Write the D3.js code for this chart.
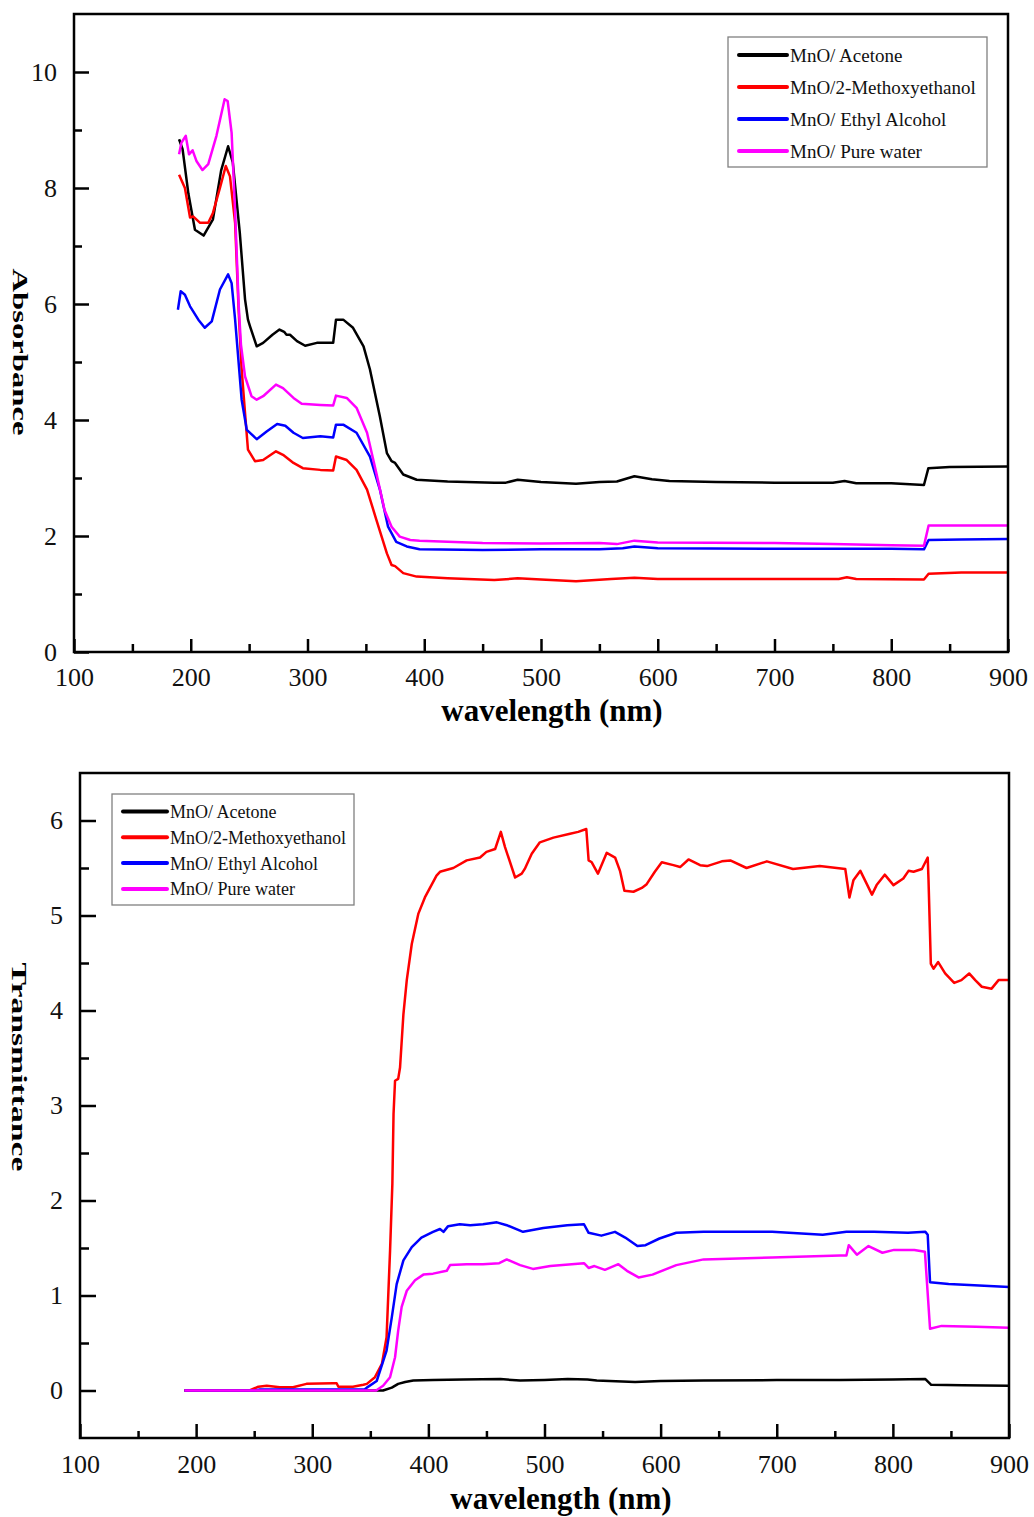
<!DOCTYPE html>
<html lang="en">
<head>
<meta charset="UTF-8">
<script src="https://cdnjs.cloudflare.com/ajax/libs/d3/7.8.5/d3.min.js"></script>
<title>MnO absorbance and transmittance</title>
<style>
  body { margin: 0; background: #fff; }
  svg { display: block; font-family: "Liberation Serif", "Times New Roman", serif; }
</style>
</head>
<body>
<div id="chart"></div>
<script>
  const solvents = ['MnO/ Acetone', 'MnO/2-Methoxyethanol', 'MnO/ Ethyl Alcohol', 'MnO/ Pure water'];
  const wavelengthTicks = [100, 200, 300, 400, 500, 600, 700, 800, 900];
  const absorbanceTicks = [0, 2, 4, 6, 8, 10];
  const transmittanceTicks = [0, 1, 2, 3, 4, 5, 6];

  // absorbance, [wavelength nm, value]
  const absAcetone = [[190,8.84],[193,8.67],[198,7.9],[203.6,7.28],[211,7.18],[219,7.46],[226,8.3],[232,8.72],[236,8.44],[242,7.23],[246.5,6.08],[249,5.73],[250.7,5.62],[256.5,5.27],[262,5.33],[270,5.47],[276,5.56],[280,5.52],[282,5.47],[285,5.47],[291,5.36],[298,5.28],[308,5.33],[322,5.33],[324.4,5.73],[330.6,5.73],[339,5.59],[348,5.27],[353.5,4.87],[362,4.06],[368,3.43],[372,3.29],[375,3.26],[382,3.06],[393.5,2.97],[420,2.94],[460,2.92],[470,2.92],[480,2.97],[500,2.93],[530,2.9],[550,2.93],[565,2.94],[580,3.03],[595,2.98],[610,2.95],[650,2.93],[700,2.92],[750,2.92],[760,2.95],[770,2.91],[800,2.91],[828,2.88],[831.8,3.17],[850,3.19],[900,3.2]];
  const absMethoxy = [[190,8.23],[195,8.0],[199.4,7.49],[202,7.51],[208,7.4],[215,7.4],[219,7.57],[225,8.0],[230,8.38],[233.6,8.2],[238,7.4],[241,5.9],[243.5,4.9],[246.5,4.12],[249,3.49],[255,3.29],[262,3.31],[273,3.46],[279,3.4],[288,3.26],[296,3.17],[311,3.14],[322,3.13],[324.4,3.37],[333.6,3.31],[342,3.14],[351,2.8],[359,2.28],[368,1.7],[372,1.5],[375,1.48],[382,1.36],[393.5,1.3],[420,1.27],[460,1.24],[480,1.27],[500,1.25],[530,1.22],[560,1.26],[580,1.28],[600,1.26],[700,1.26],[755,1.26],[762,1.29],[770,1.26],[828,1.25],[832,1.35],[860,1.37],[900,1.37]];
  const absEthyl = [[189,5.9],[191.4,6.22],[195,6.16],[199.4,5.96],[206.5,5.73],[212,5.59],[218,5.7],[225,6.25],[232,6.51],[235,6.36],[238,5.73],[243.6,4.35],[248,3.83],[256.5,3.67],[265,3.8],[274,3.93],[281,3.9],[288,3.78],[296,3.69],[311,3.72],[322,3.7],[324.4,3.92],[330.6,3.92],[342,3.78],[353.5,3.37],[362,2.8],[369,2.16],[376,1.9],[385,1.82],[396,1.77],[450,1.76],[500,1.77],[550,1.77],[570,1.79],[580,1.82],[600,1.79],[700,1.78],[800,1.78],[828,1.77],[832,1.93],[860,1.94],[900,1.95]];
  const absWater = [[190,8.58],[192,8.78],[195.7,8.9],[198.5,8.58],[201.6,8.65],[205,8.46],[210,8.31],[215,8.41],[222,8.9],[229,9.53],[231.6,9.5],[235,8.95],[238,7.6],[241,6.0],[243,5.3],[246.5,4.75],[252,4.41],[256.5,4.35],[262,4.41],[273,4.61],[279,4.55],[288,4.38],[295,4.28],[311,4.26],[322,4.25],[324.4,4.42],[333.6,4.38],[342,4.21],[351,3.78],[359,3.08],[366,2.45],[372,2.16],[379,1.99],[388,1.93],[396,1.92],[450,1.88],[500,1.87],[550,1.88],[565,1.86],[580,1.92],[600,1.89],[700,1.88],[750,1.86],[800,1.84],[828,1.83],[832,2.18],[860,2.18],[900,2.18]];

  // transmittance, [wavelength nm, value]
  const transAcetone = [[190,0],[355,0],[361,0],[368.5,0.03],[374,0.07],[380,0.09],[387,0.105],[404,0.11],[430,0.115],[462,0.12],[479,0.105],[500,0.11],[520,0.12],[537,0.115],[545,0.105],[578,0.09],[600,0.1],[637,0.105],[700,0.11],[754,0.11],[800,0.115],[828,0.12],[833,0.06],[860,0.055],[900,0.05]];
  const transMethoxy = [[190,0],[246,0],[253.6,0.04],[260.8,0.05],[272,0.035],[283.5,0.035],[295,0.07],[318,0.077],[321,0.077],[322.5,0.04],[335,0.04],[344,0.06],[347,0.07],[354,0.14],[360,0.28],[364,0.56],[367,1.47],[369,2.18],[370,2.91],[371.3,3.26],[374,3.28],[375.6,3.4],[378.5,3.96],[381.4,4.32],[385.7,4.7],[391.4,5.02],[397,5.19],[407,5.42],[410,5.46],[421.5,5.5],[433,5.58],[444.5,5.61],[450,5.67],[457.5,5.7],[462.4,5.88],[466,5.72],[474.7,5.4],[480.4,5.44],[483,5.49],[489,5.65],[496,5.77],[507.7,5.82],[522,5.86],[529,5.88],[536,5.91],[538,5.58],[540.7,5.56],[546,5.44],[553.6,5.66],[560.8,5.61],[565,5.47],[568.8,5.26],[576.6,5.25],[583.8,5.29],[588,5.33],[595,5.46],[601,5.56],[611,5.53],[616.8,5.51],[624,5.59],[634,5.53],[640,5.52],[652.7,5.57],[660,5.58],[674,5.5],[691.5,5.57],[714,5.49],[737,5.52],[759,5.49],[762.6,5.19],[766,5.37],[772,5.47],[777.6,5.33],[782,5.22],[786,5.32],[793,5.43],[800.5,5.32],[809,5.39],[813.5,5.47],[817.8,5.46],[825,5.49],[830,5.61],[830.7,5.37],[832.7,4.49],[835,4.44],[839,4.51],[845,4.39],[852.8,4.29],[859,4.32],[865.7,4.39],[870.9,4.32],[876.6,4.25],[885,4.23],[891,4.32],[900,4.32]];
  const transEthyl = [[190,0],[250,0],[255,0.01],[345,0.01],[347,0.03],[355.5,0.1],[364,0.42],[368.5,0.77],[372.7,1.12],[378.5,1.37],[385.7,1.51],[394,1.61],[404,1.67],[410,1.7],[413,1.67],[417,1.73],[427,1.75],[436,1.74],[447,1.75],[459,1.77],[467.5,1.74],[481.5,1.67],[499,1.71],[519.6,1.74],[534,1.75],[538,1.66],[549,1.63],[560.7,1.67],[569.5,1.61],[580,1.52],[587,1.53],[599,1.6],[613.5,1.66],[637,1.67],[696,1.67],[739.6,1.64],[760,1.67],[783.6,1.67],[813,1.66],[828,1.67],[830,1.64],[832,1.14],[848,1.12],[865.7,1.11],[900,1.09]];
  const transWater = [[190,0],[355,0],[361,0.05],[367,0.14],[371.3,0.35],[374,0.63],[377,0.88],[381.4,1.05],[388.5,1.16],[395.7,1.22],[404,1.23],[415.8,1.26],[418.7,1.32],[433,1.33],[447,1.33],[461,1.34],[467.5,1.38],[479,1.32],[490,1.28],[505,1.31],[534,1.34],[538,1.29],[543,1.31],[552,1.27],[563.6,1.33],[571,1.26],[581,1.19],[593,1.22],[613.5,1.32],[637,1.38],[696,1.4],[754.5,1.42],[760,1.42],[762,1.53],[769,1.43],[779,1.52],[791,1.45],[801,1.48],[818.5,1.48],[827.6,1.46],[832,0.65],[842,0.68],[871.6,0.67],[900,0.66]];

  const colors = ['#000000', '#ff0000', '#0000ff', '#ff00ff'];

  const svg = d3.select('#chart')
    .append('svg')
    .attr('width', 1034)
    .attr('height', 1517);

  function panel(opt) {
    const x = d3.scaleLinear().domain([100, 900]).range([opt.left, opt.right]);
    const y = d3.scaleLinear().domain(opt.yDomain).range([opt.bottom, opt.top]);
    const g = svg.append('g');

    const xMinor = d3.pairs(wavelengthTicks, (a, b) => (a + b) / 2);
    const yMinor = d3.pairs(opt.yTicks, (a, b) => (a + b) / 2);

    // minor ticks (inward)
    g.append('g')
      .attr('transform', `translate(0,${opt.bottom})`)
      .call(d3.axisBottom(x).tickValues(xMinor).tickSize(-opt.xTick[1]).tickFormat(''));
    g.append('g')
      .attr('transform', `translate(${opt.left},0)`)
      .call(d3.axisLeft(y).tickValues(yMinor).tickSize(-opt.yTick[1]).tickFormat(''));

    // major ticks with labels
    g.append('g')
      .attr('transform', `translate(0,${opt.bottom})`)
      .call(d3.axisBottom(x).tickValues(wavelengthTicks).tickSize(-opt.xTick[0])
        .tickPadding(opt.xPad).tickFormat(d3.format('d')));
    g.append('g')
      .attr('transform', `translate(${opt.left},0)`)
      .call(d3.axisLeft(y).tickValues(opt.yTicks).tickSize(-opt.yTick[0])
        .tickPadding(17).tickFormat(d3.format('d')));

    g.selectAll('.domain').remove();
    g.selectAll('.tick line').attr('stroke', '#000').attr('stroke-width', 2.5);
    g.selectAll('.tick text')
      .attr('fill', '#111')
      .style('font-family', '"Liberation Serif", "Times New Roman", serif')
      .style('font-size', '26px');

    // data lines
    const line = d3.line().x(d => x(d[0])).y(d => y(d[1]));
    g.selectAll('path.series')
      .data(opt.series)
      .enter()
      .append('path')
      .attr('class', 'series')
      .attr('d', d => line(d))
      .attr('fill', 'none')
      .attr('stroke', (d, i) => colors[i])
      .attr('stroke-width', 2.5)
      .attr('stroke-linejoin', 'round');

    // frame
    g.append('rect')
      .attr('x', opt.left)
      .attr('y', opt.top)
      .attr('width', opt.right - opt.left)
      .attr('height', opt.bottom - opt.top)
      .attr('fill', 'none')
      .attr('stroke', '#000')
      .attr('stroke-width', 2.5);

    // axis titles
    g.append('text')
      .attr('x', opt.xTitle[0])
      .attr('y', opt.xTitle[1])
      .attr('text-anchor', 'middle')
      .style('font-size', '31px')
      .style('font-weight', 'bold')
      .text('wavelength (nm)');
    g.append('text')
      .attr('transform', `translate(${opt.yTitle[0]},${opt.yTitle[1]}) rotate(90)`)
      .attr('text-anchor', 'middle')
      .attr('textLength', opt.yTitle[2])
      .attr('lengthAdjust', 'spacingAndGlyphs')
      .style('font-size', '22px')
      .style('font-weight', 'bold')
      .text(opt.yLabel);

    // legend
    const lg = opt.legend;
    g.append('rect')
      .attr('x', lg.x).attr('y', lg.y)
      .attr('width', lg.w).attr('height', lg.h)
      .attr('fill', '#fff')
      .attr('stroke', '#808080')
      .attr('stroke-width', 1.3);
    const rows = g.selectAll('g.legend-row')
      .data(solvents)
      .enter()
      .append('g')
      .attr('class', 'legend-row')
      .attr('transform', (d, i) => `translate(${lg.x},${lg.y + lg.first + i * lg.step})`);
    rows.append('line')
      .attr('x1', lg.line[0]).attr('x2', lg.line[1])
      .attr('stroke', (d, i) => colors[i])
      .attr('stroke-width', 4)
      .attr('stroke-linecap', 'round');
    rows.append('text')
      .attr('x', lg.line[1] + 3)
      .attr('dy', '0.36em')
      .attr('fill', '#111')
      .style('font-size', lg.font + 'px')
      .text(d => d);
  }

  panel({
    left: 74, right: 1008, top: 14, bottom: 652,
    yDomain: [0, 11], yTicks: absorbanceTicks,
    xTick: [13, 8], yTick: [15, 8], xPad: 16,
    series: [absAcetone, absMethoxy, absEthyl, absWater],
    xTitle: [552, 721], yTitle: [13, 352, 167], yLabel: 'Absorbance',
    legend: { x: 728, y: 37, w: 259, h: 130, first: 18, step: 32, line: [11, 59], font: 19 }
  });

  panel({
    left: 80, right: 1009, top: 773, bottom: 1438,
    yDomain: [-0.5, 6.5], yTicks: transmittanceTicks,
    xTick: [14, 7], yTick: [16, 9], xPad: 17,
    series: [transAcetone, transMethoxy, transEthyl, transWater],
    xTitle: [561, 1509], yTitle: [12, 1067, 209], yLabel: 'Transmittance',
    legend: { x: 112, y: 794, w: 242, h: 111, first: 17.5, step: 25.8, line: [11, 55], font: 18 }
  });
</script>
</body>
</html>
